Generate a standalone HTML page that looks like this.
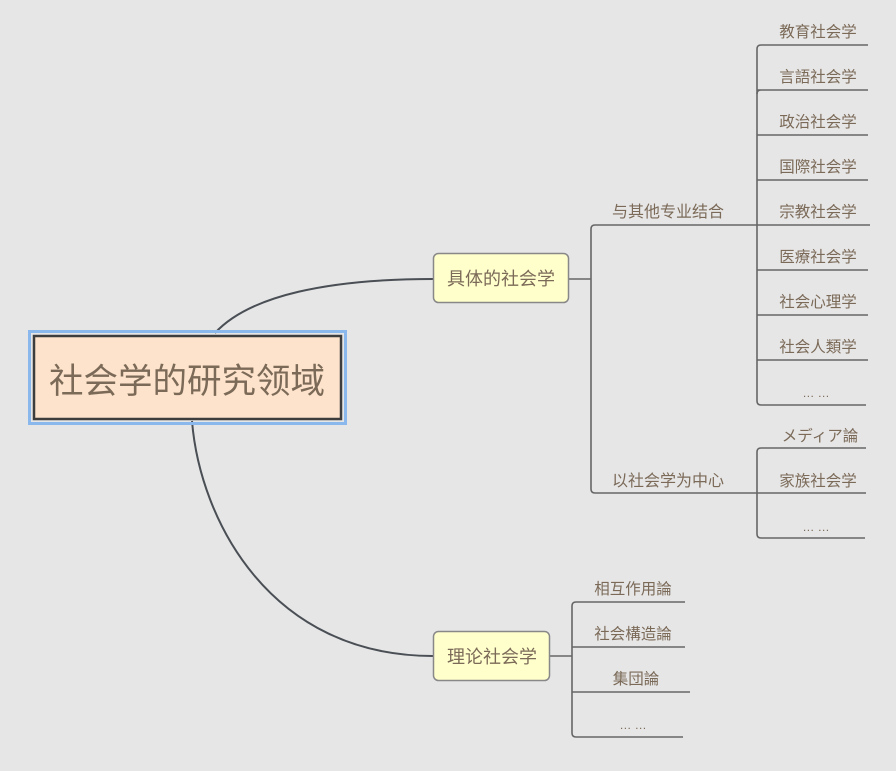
<!DOCTYPE html>
<html><head><meta charset="utf-8"><style>
html,body{margin:0;padding:0;background:#e6e6e6;}
svg{display:block;}
text{font-family:"Liberation Sans","Noto Sans CJK SC",sans-serif;fill:#7b6a58;}
</style></head><body>
<svg width="896" height="771" viewBox="0 0 896 771" xmlns="http://www.w3.org/2000/svg">
<rect width="896" height="771" fill="#e6e6e6"/>
<g fill="none" stroke="#4a4f55" stroke-width="2">
<path d="M215,333 C250,295 330,279 433,279"/>
<path d="M192,421 C200,520 270,656 433,656"/>
</g>
<g fill="none" stroke="#666" stroke-width="1.6">
<path d="M569,279 H591"/>
<path d="M595,225 H870 M591,229 V489 Q591,493 595,493 H757"/>
<path d="M591,229 Q591,225 595,225"/>
<path d="M757,49 V401 Q757,405 761,405 H866 M757,49 Q757,45 761,45 H868"/>
<path d="M757,90 H868 M757,94 Q757,90 761,90"/>
<path d="M757,135 H868 M757,180 H868 M757,270 H868 M757,315 H868 M757,360 H868"/>
<path d="M757,452 V534 Q757,538 761,538 H865 M757,452 Q757,448 761,448 H866 M757,493 H866"/>
<path d="M550,656 H572"/>
<path d="M572,606 V733 Q572,737 576,737 H683 M572,606 Q572,602 576,602 H685 M572,647 H685 M572,692 H690"/>
</g>
<rect x="29.5" y="331.5" width="316" height="92" fill="none" stroke="#8ab8ec" stroke-width="3"/>
<rect x="34" y="336" width="307" height="83" fill="#fde3cb" stroke="#3d3d3d" stroke-width="2.5"/>
<text x="187" y="393" font-size="34.5" text-anchor="middle">社会学的研究领域</text>
<rect x="433.5" y="253.5" width="135" height="49" rx="5" fill="#ffffcc" stroke="#888" stroke-width="1.5"/>
<text x="501" y="285" font-size="18" text-anchor="middle">具体的社会学</text>
<rect x="433.5" y="631.5" width="116" height="49" rx="5" fill="#ffffcc" stroke="#888" stroke-width="1.5"/>
<text x="492" y="663" font-size="18" text-anchor="middle">理论社会学</text>
<g font-size="15.5" text-anchor="middle">
<text x="668" y="217" font-size="16">与其他专业结合</text>
<text x="668" y="486" font-size="16">以社会学为中心</text>
<text x="818" y="37">教育社会学</text>
<text x="818" y="82">言語社会学</text>
<text x="818" y="127">政治社会学</text>
<text x="818" y="172">国際社会学</text>
<text x="818" y="217">宗教社会学</text>
<text x="818" y="262">医療社会学</text>
<text x="818" y="307">社会心理学</text>
<text x="818" y="352">社会人類学</text>
<text x="816" y="397" font-size="12">… …</text>
<text x="820" y="441">メディア論</text>
<text x="818" y="486">家族社会学</text>
<text x="816" y="531" font-size="12">… …</text>
<text x="633" y="594">相互作用論</text>
<text x="633" y="639">社会構造論</text>
<text x="636" y="684">集団論</text>
<text x="633" y="729" font-size="12">… …</text>
</g>
</svg>
</body></html>
